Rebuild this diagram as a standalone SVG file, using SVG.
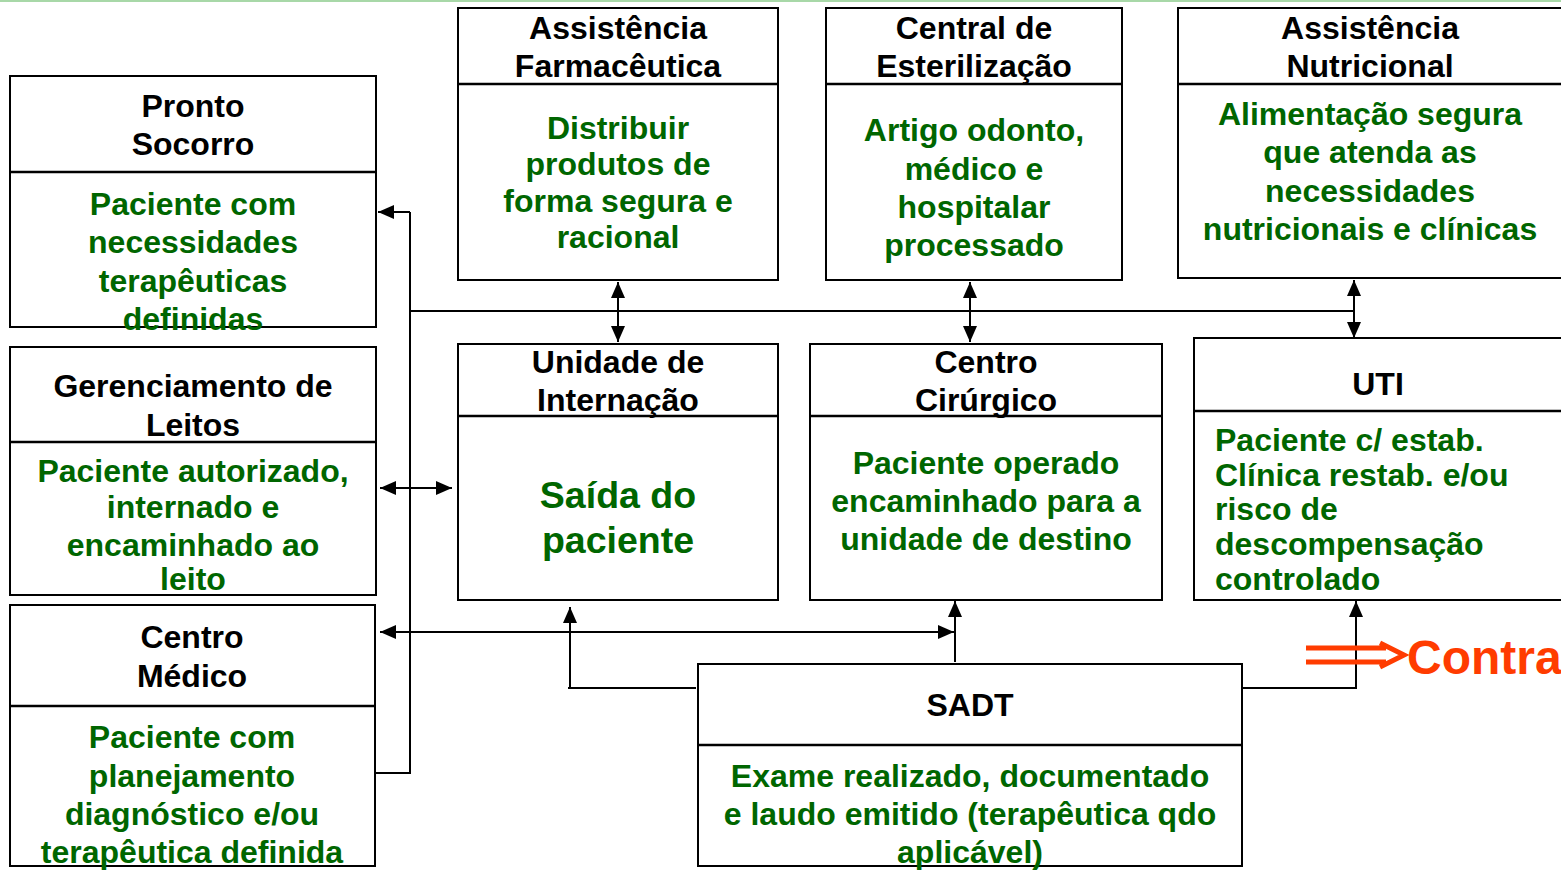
<svg xmlns="http://www.w3.org/2000/svg" width="1561" height="870" viewBox="0 0 1561 870">
<defs>
<style>
.box{fill:#fff;stroke:#000;stroke-width:2}
.div{stroke:#000;stroke-width:2.5}
.t{font-family:"Liberation Sans",Arial,sans-serif;font-weight:bold;font-size:32px;fill:#000;text-anchor:middle}
.g{font-family:"Liberation Sans",Arial,sans-serif;font-weight:bold;font-size:32px;fill:#006600;text-anchor:middle}
.gl{text-anchor:start}
.c{stroke:#000;stroke-width:2;fill:none}
</style>
<marker id="a" viewBox="0 0 16 14" refX="16" refY="7" markerWidth="16" markerHeight="14" markerUnits="userSpaceOnUse" orient="auto-start-reverse">
<path d="M0,0 L16,7 L0,14 z" fill="#000"/>
</marker>
</defs>
<rect width="1561" height="870" fill="#fff"/>
<line x1="0" y1="1" x2="1561" y2="1" stroke="#a8d8a8" stroke-width="2"/>

<g id="connectors">
<polyline class="c" points="410,212 410,773 372,773"/>
<line class="c" x1="410" y1="212" x2="378" y2="212" marker-end="url(#a)"/>
<line class="c" x1="410" y1="311" x2="1354" y2="311"/>
<line class="c" x1="618" y1="282" x2="618" y2="342" marker-start="url(#a)" marker-end="url(#a)"/>
<line class="c" x1="970" y1="282" x2="970" y2="342" marker-start="url(#a)" marker-end="url(#a)"/>
<line class="c" x1="1354" y1="280" x2="1354" y2="338" marker-start="url(#a)" marker-end="url(#a)"/>
<line class="c" x1="380" y1="488" x2="452" y2="488" marker-start="url(#a)" marker-end="url(#a)"/>
<line class="c" x1="380" y1="632" x2="954" y2="632" marker-start="url(#a)" marker-end="url(#a)"/>
<line class="c" x1="955" y1="662" x2="955" y2="601" marker-end="url(#a)"/>
<polyline class="c" points="696,688 568,688"/>
<line class="c" x1="570" y1="688" x2="570" y2="607" marker-end="url(#a)"/>
<polyline class="c" points="1243,688 1356,688 1356,601" marker-end="url(#a)"/>
</g>

<g id="pronto-socorro">
<rect class="box" x="10" y="76" width="366" height="251"/>
<line class="div" x1="10" y1="172" x2="376" y2="172"/>
<text class="t" x="193" y="117">Pronto</text>
<text class="t" x="193" y="155">Socorro</text>
<text class="g" x="193" y="215">Paciente com</text>
<text class="g" x="193" y="253">necessidades</text>
<text class="g" x="193" y="292">terapêuticas</text>
<text class="g" x="193" y="330">definidas</text>
</g>

<g id="gerenciamento-leitos">
<rect class="box" x="10" y="347" width="366" height="248"/>
<line class="div" x1="10" y1="442" x2="376" y2="442"/>
<text class="t" x="193" y="397">Gerenciamento de</text>
<text class="t" x="193" y="436">Leitos</text>
<text class="g" x="193" y="482">Paciente autorizado,</text>
<text class="g" x="193" y="518">internado e</text>
<text class="g" x="193" y="556">encaminhado ao</text>
<text class="g" x="193" y="590">leito</text>
</g>

<g id="centro-medico">
<rect class="box" x="10" y="605" width="365" height="261"/>
<line class="div" x1="10" y1="706" x2="375" y2="706"/>
<text class="t" x="192" y="648">Centro</text>
<text class="t" x="192" y="687">Médico</text>
<text class="g" x="192" y="748">Paciente com</text>
<text class="g" x="192" y="787">planejamento</text>
<text class="g" x="192" y="825">diagnóstico e/ou</text>
<text class="g" x="192" y="863">terapêutica definida</text>
</g>

<g id="assistencia-farmaceutica">
<rect class="box" x="458" y="8" width="320" height="272"/>
<line class="div" x1="458" y1="84" x2="778" y2="84"/>
<text class="t" x="618" y="39">Assistência</text>
<text class="t" x="618" y="77">Farmacêutica</text>
<text class="g" x="618" y="139">Distribuir</text>
<text class="g" x="618" y="175">produtos de</text>
<text class="g" x="618" y="212">forma segura e</text>
<text class="g" x="618" y="248">racional</text>
</g>

<g id="central-esterilizacao">
<rect class="box" x="826" y="8" width="296" height="272"/>
<line class="div" x1="826" y1="84" x2="1122" y2="84"/>
<text class="t" x="974" y="39">Central de</text>
<text class="t" x="974" y="77">Esterilização</text>
<text class="g" x="974" y="141">Artigo odonto,</text>
<text class="g" x="974" y="180">médico e</text>
<text class="g" x="974" y="218">hospitalar</text>
<text class="g" x="974" y="256">processado</text>
</g>

<g id="assistencia-nutricional">
<rect class="box" x="1178" y="8" width="400" height="270"/>
<line class="div" x1="1178" y1="84" x2="1561" y2="84"/>
<text class="t" x="1370" y="39">Assistência</text>
<text class="t" x="1370" y="77">Nutricional</text>
<text class="g" x="1370" y="125">Alimentação segura</text>
<text class="g" x="1370" y="163">que atenda as</text>
<text class="g" x="1370" y="202">necessidades</text>
<text class="g" x="1370" y="240">nutricionais e clínicas</text>
</g>

<g id="unidade-internacao">
<rect class="box" x="458" y="344" width="320" height="256"/>
<line class="div" x1="458" y1="416" x2="778" y2="416"/>
<text class="t" x="618" y="373">Unidade de</text>
<text class="t" x="618" y="411">Internação</text>
<text class="g" x="618" y="508" style="font-size:37.5px">Saída do</text>
<text class="g" x="618" y="553" style="font-size:37.5px">paciente</text>
</g>

<g id="centro-cirurgico">
<rect class="box" x="810" y="344" width="352" height="256"/>
<line class="div" x1="810" y1="416" x2="1162" y2="416"/>
<text class="t" x="986" y="373">Centro</text>
<text class="t" x="986" y="411">Cirúrgico</text>
<text class="g" x="986" y="474">Paciente operado</text>
<text class="g" x="986" y="512">encaminhado para a</text>
<text class="g" x="986" y="550">unidade de destino</text>
</g>

<g id="uti">
<rect class="box" x="1194" y="338" width="400" height="262"/>
<line class="div" x1="1194" y1="411" x2="1561" y2="411"/>
<text class="t" x="1378" y="395">UTI</text>
<text class="g gl" x="1215" y="451">Paciente c/ estab.</text>
<text class="g gl" x="1215" y="486">Clínica restab. e/ou</text>
<text class="g gl" x="1215" y="520">risco de</text>
<text class="g gl" x="1215" y="555">descompensação</text>
<text class="g gl" x="1215" y="590">controlado</text>
</g>

<g id="sadt">
<rect class="box" x="698" y="664" width="544" height="202"/>
<line class="div" x1="698" y1="745" x2="1242" y2="745"/>
<text class="t" x="970" y="716">SADT</text>
<text class="g" x="970" y="787">Exame realizado, documentado</text>
<text class="g" x="970" y="825">e laudo emitido (terapêutica qdo</text>
<text class="g" x="970" y="863">aplicável)</text>
</g>

<g id="contra">
<path d="M1306,648 H1386 M1306,662 H1386" stroke="#ff3c00" stroke-width="5" fill="none"/>
<path d="M1380,643 L1404,655 L1380,667" stroke="#ff3c00" stroke-width="5" fill="none"/>
<text x="1407" y="674" style="font-family:'Liberation Sans',Arial,sans-serif;font-weight:bold;font-size:48px;fill:#ff3c00">Contra</text>
</g>
</svg>
